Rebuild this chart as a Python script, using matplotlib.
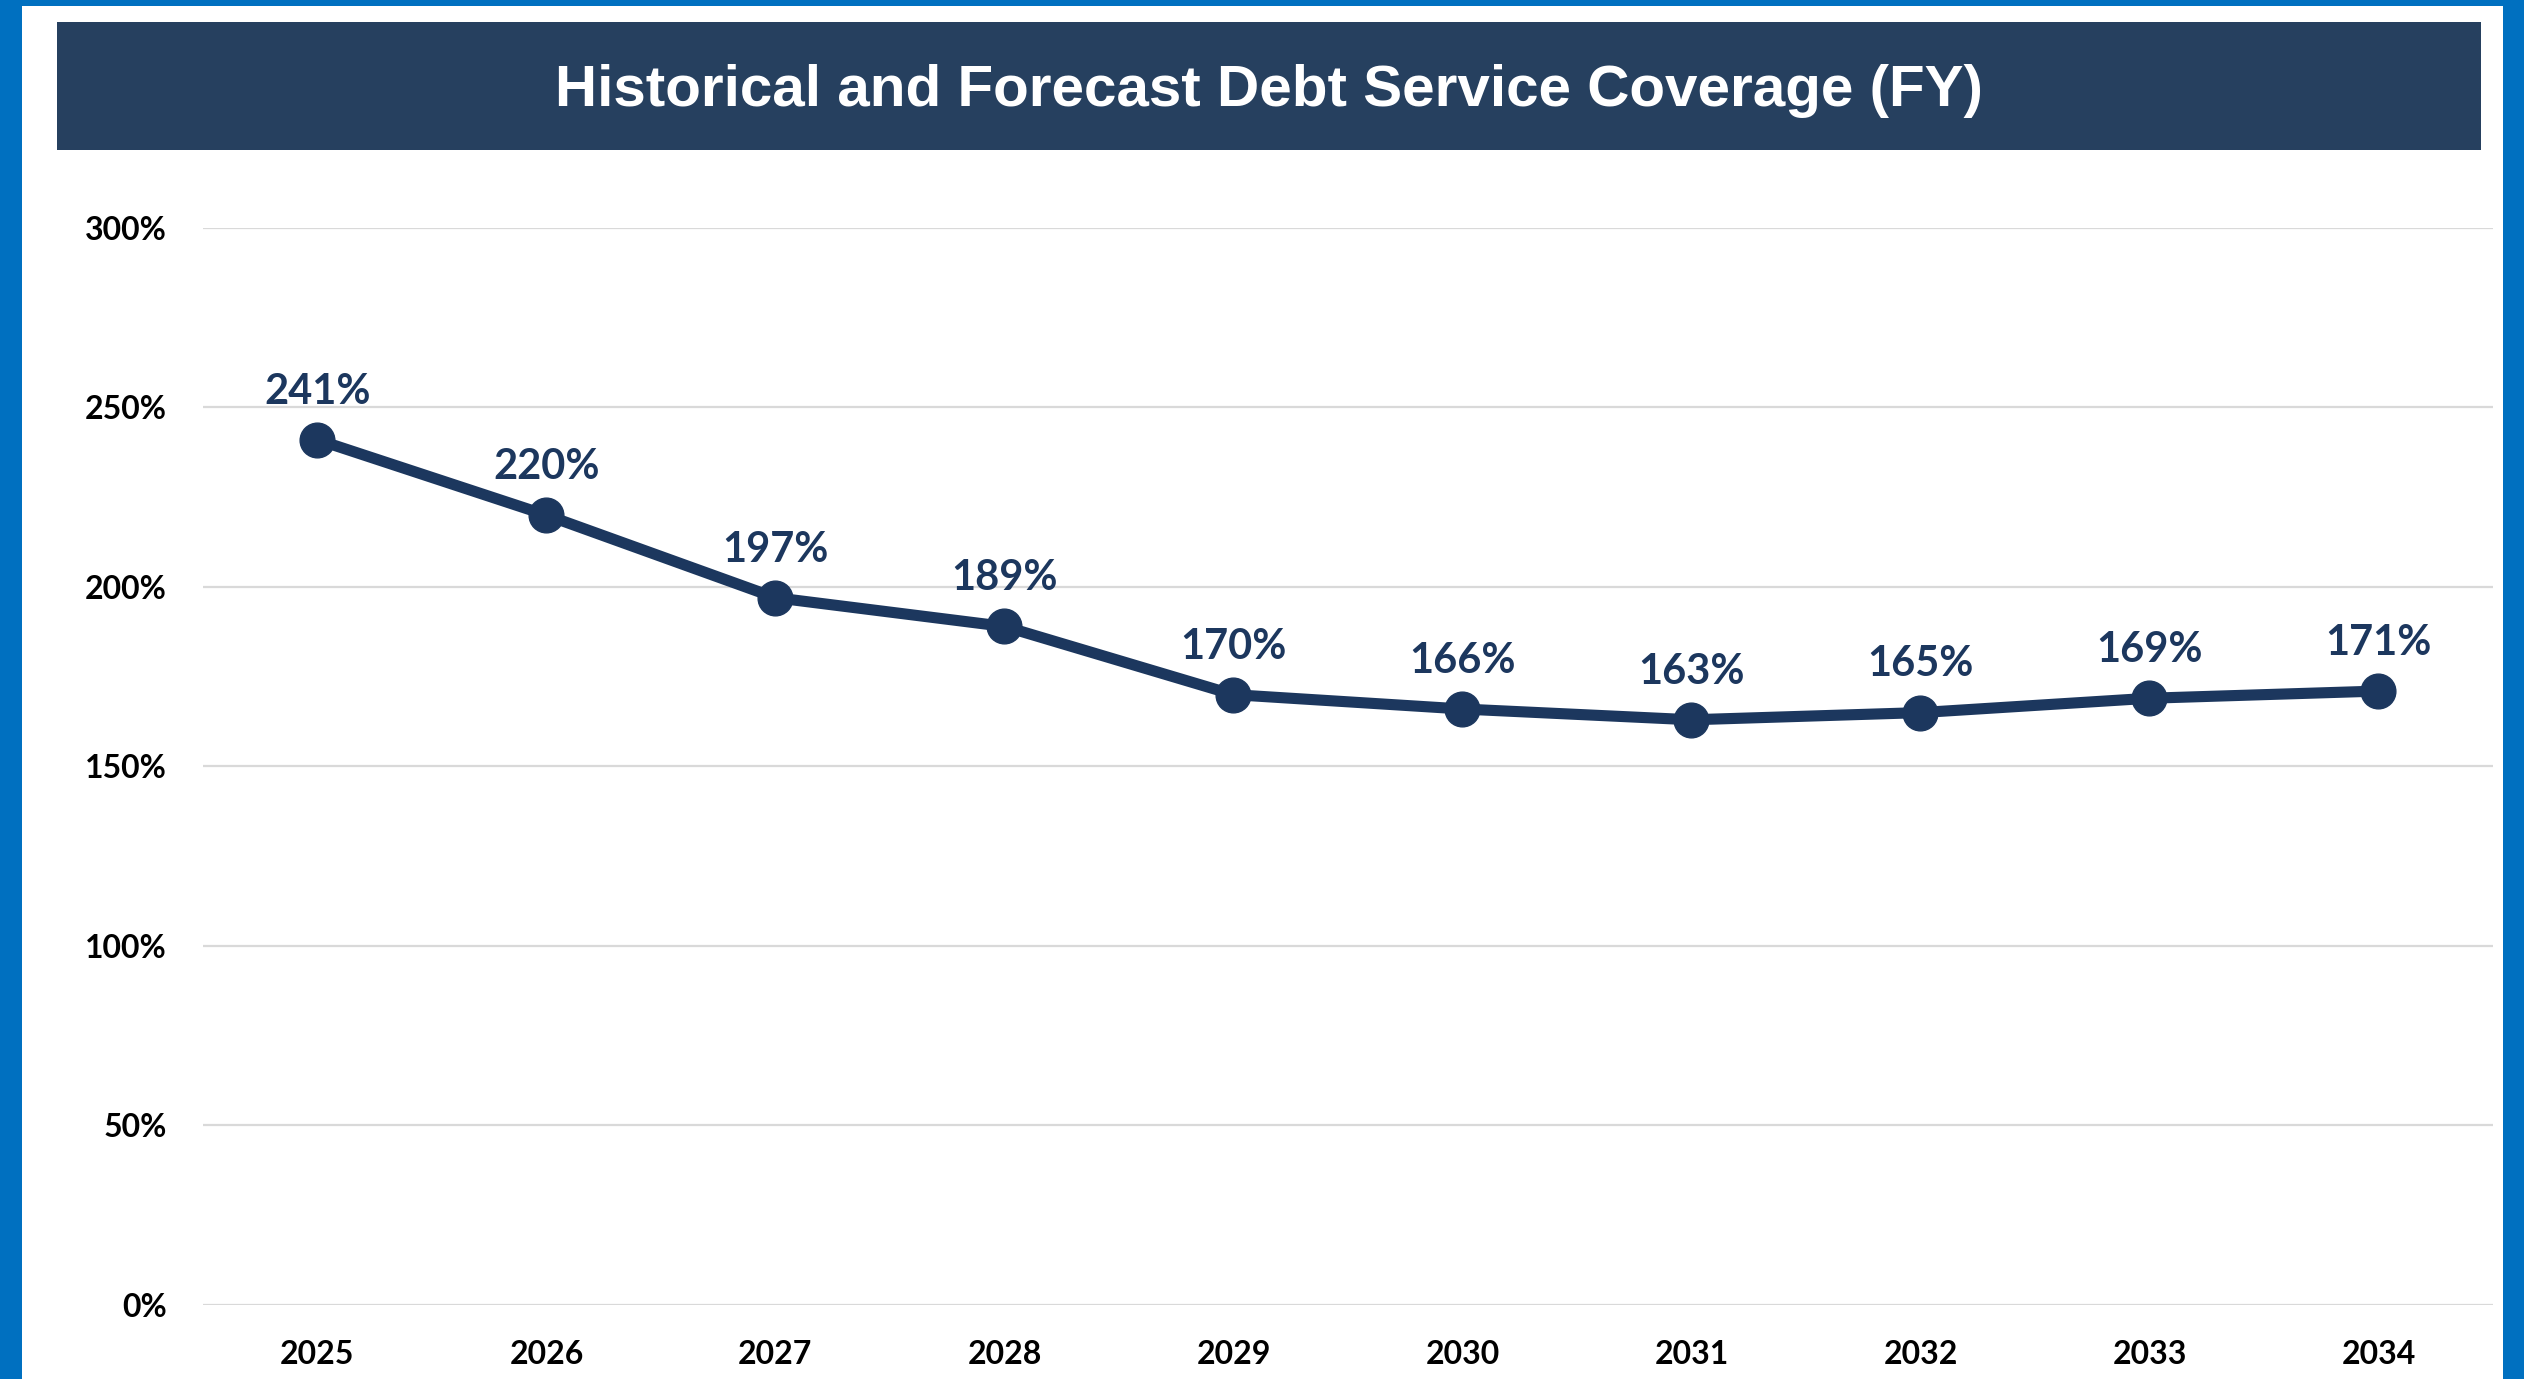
import matplotlib.pyplot as plt
from matplotlib.patches import Rectangle
from matplotlib.ticker import FuncFormatter

years = ['2025', '2026', '2027', '2028', '2029', '2030', '2031', '2032', '2033', '2034']
coverage = [241, 220, 197, 189, 170, 166, 163, 165, 169, 171]
y_ticks = [0, 50, 100, 150, 200, 250, 300]

BORDER = '#0070C0'
BANNER = '#26405F'
NAVY = '#1C375E'
GRID = '#D9D9D9'
LABEL_FONT = 'Lato'

fig = plt.figure(figsize=(25.24, 13.79), dpi=100)
fig.patch.set_facecolor(BORDER)

# white page inside the blue frame
fig.patches.append(Rectangle((0.0087, 0.0), 0.9830, 0.9957, transform=fig.transFigure,
                             facecolor='white', edgecolor='none', zorder=-2))
# title banner
fig.patches.append(Rectangle((0.0226, 0.8912), 0.9604, 0.0929, transform=fig.transFigure,
                             facecolor=BANNER, edgecolor='none', zorder=-1))
fig.text(0.5028, 0.934, 'Historical and Forecast Debt Service Coverage (FY)',
         ha='center', va='center', color='white', fontsize=42, fontweight='bold',
         family='Liberation Sans', zorder=2)

ax = fig.add_axes([0.0804, 0.0537, 0.9073, 0.7810])
ax.set_facecolor('none')
ax.set_zorder(3)

x = list(range(len(years)))
ax.plot(x, coverage, color=NAVY, lw=8, marker='o', ms=25, zorder=3,
        solid_joinstyle='round')

for xi, v in zip(x, coverage):
    ax.annotate(f'{v}%', (xi, v), xytext=(0, 26), textcoords='offset points',
                ha='center', va='baseline', fontsize=30, fontweight='bold',
                color=NAVY, family=LABEL_FONT, zorder=4)

ax.set_xlim(-0.5, len(years) - 0.5)
ax.set_ylim(0, 300)
ax.set_xticks(x)
ax.set_xticklabels(years)
ax.set_yticks(y_ticks)
ax.yaxis.set_major_formatter(FuncFormatter(lambda v, _: f'{v:.0f}%'))

ax.grid(axis='y', color=GRID, lw=1.6, zorder=0)
ax.set_axisbelow(True)
for s in ax.spines.values():
    s.set_visible(False)
ax.tick_params(axis='both', length=0)
ax.tick_params(axis='y', pad=26)
ax.tick_params(axis='x', pad=25)
for lbl in ax.get_xticklabels() + ax.get_yticklabels():
    lbl.set_family(LABEL_FONT)
    lbl.set_fontweight('bold')
    lbl.set_color('black')
for lbl in ax.get_xticklabels():
    lbl.set_fontsize(23)
for lbl in ax.get_yticklabels():
    lbl.set_fontsize(23)

fig.savefig('out.png', dpi=100, facecolor=fig.get_facecolor())
